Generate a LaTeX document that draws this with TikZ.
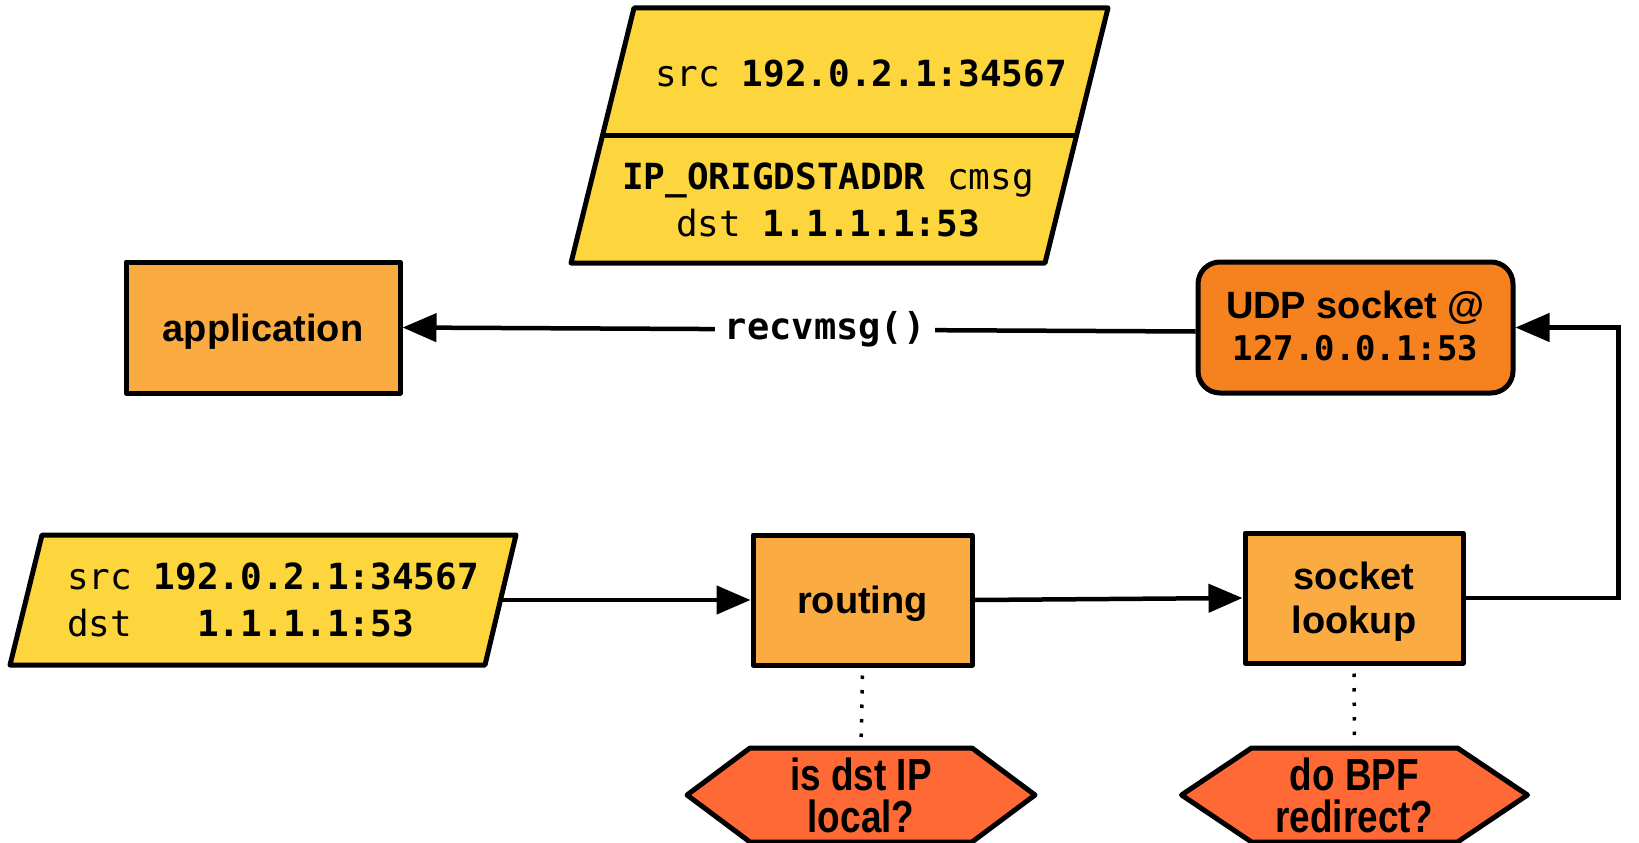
\documentclass[tikz,border=0pt]{standalone}
\usepackage{fontspec}
\setmainfont{Liberation Sans}
\newfontfamily\monof{DejaVu Sans Mono}
\newfontfamily\condf[FakeStretch=0.82]{Liberation Sans}
\usetikzlibrary{arrows.meta}

\definecolor{pktyellow}{HTML}{FDD53D}
\definecolor{boxorange}{HTML}{FAAC42}
\definecolor{sockorange}{HTML}{F5821F}
\definecolor{hexred}{HTML}{FE6935}

\tikzset{
  base/.style={draw=black, line width=5pt, line join=round},
  stagebox/.style={base, fill=boxorange, align=center, inner sep=0pt, text depth=0pt,
    font=\bfseries\fontsize{38}{44}\selectfont},
  sockbox/.style={stagebox, fill=sockorange, rounded corners=22pt, text depth=4pt},
  packet/.style={base, fill=pktyellow},
  monotext/.style={inner sep=0pt, font=\monof\fontsize{36}{47}\selectfont},
  hexa/.style={base, fill=hexred},
  hextext/.style={inner sep=0pt, align=center,
    font=\condf\bfseries\fontsize{45}{42}\selectfont},
  arr/.style={line width=4.5pt, -{Triangle[length=34pt,width=28pt]}},
  dotline/.style={line width=3.5pt, dash pattern=on 3.5pt off 11pt, dash phase=-8pt},
}

\begin{document}
\begin{tikzpicture}[x=1pt,y=-1pt]
\useasboundingbox (0,0) rectangle (1639,843);

% received datagram with its ancillary data
\draw[packet] (634,8) -- (1108,8) -- (1045,263) -- (571,263) -- cycle;
\draw[line width=5pt] (602.6,135) -- (1076.6,135);
\node[monotext] (msgsrc) at (861,73) {src \textbf{192.0.2.1:34567}};
\node[monotext, align=center] (msgcmsg) at (828,200)
  {\textbf{IP\_ORIGDSTADDR} cmsg\\dst \textbf{1.1.1.1:53}};

% incoming packet
\draw[packet] (42,535) -- (516,535) -- (485,665) -- (10,665) -- cycle;
\coordinate (pktout) at (500.5,600);
\node[monotext, align=left, anchor=west] (pkttext) at (67,600)
  {src \textbf{192.0.2.1:34567}\\dst\phantom{xxx}\textbf{1.1.1.1:53}};

% stages
\node[stagebox, minimum width=274, minimum height=131] (app) at (263,327.5) {application};
\node[sockbox, minimum width=315, minimum height=131] (udp) at (1355.5,327.5)
  {UDP socket @\\[-2pt]{\monof\fontsize{34}{44}\selectfont 127.0.0.1:53}};
\node[stagebox, minimum width=219, minimum height=130] (routing) at (862.5,600) {routing};
\node[stagebox, minimum width=218, minimum height=130] (lookup) at (1354,598) {socket\\lookup};

% decisions
\coordinate (h1) at (861,795);
\coordinate (h2) at (1354.5,795);
\draw[hexa] (h1) ++(-174,0) -- ++(63,-47) -- ++(222,0) -- ++(63,47)
  -- ++(-63,47) -- ++(-222,0) -- cycle;
\draw[hexa] (h2) ++(-173,0) -- ++(70,-47) -- ++(206,0) -- ++(70,47)
  -- ++(-70,47) -- ++(-206,0) -- cycle;
\node[hextext] (q1) at (h1) {is dst IP\\local?};
\node[hextext] (q2) at (h2) {do BPF\\redirect?};
\coordinate (q1top) at (861,748);
\coordinate (q2top) at (1354.5,748);

% connectors
\draw[arr] (pktout) -- (routing.west);
\draw[arr] (routing.east) -- (lookup.west);
\draw[arr] (lookup.east) -- ++(153,0) |- (udp.east);
\draw[arr] ([yshift=-4pt]udp.west) -- node[pos=0.467, fill=white, inner xsep=10pt,
  inner ysep=4pt, font=\monof\bfseries\fontsize{37}{44}\selectfont] (recv) {recvmsg()} (app.east);
\draw[dotline] (routing.south) -- (q1top);
\draw[dotline] (lookup.south) -- (q2top);
\end{tikzpicture}
\end{document}
